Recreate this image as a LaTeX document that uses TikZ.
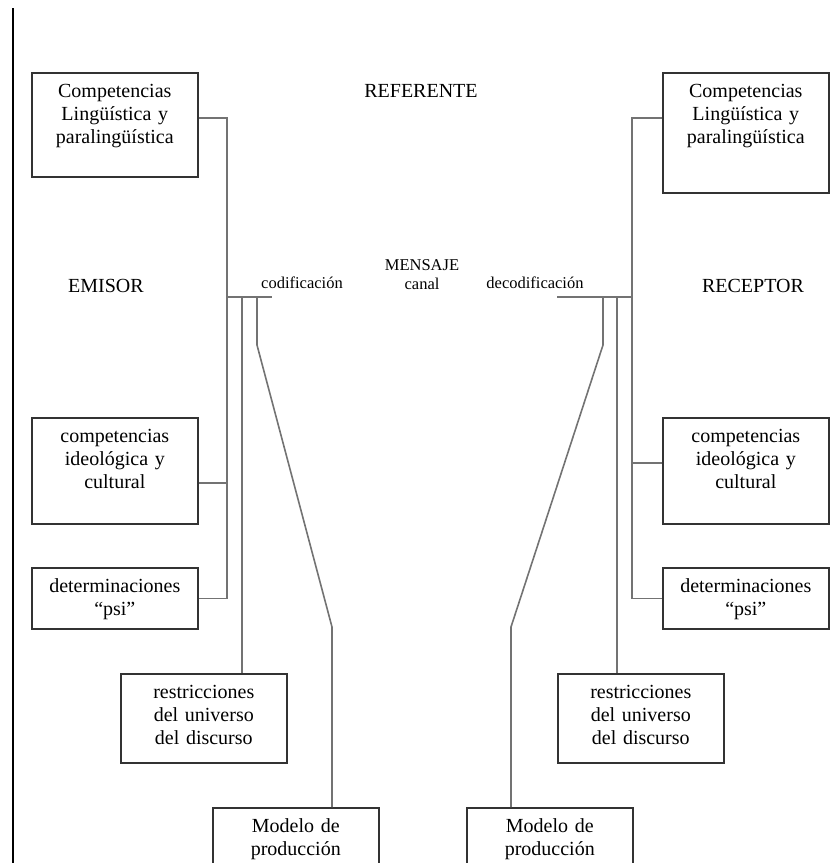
\documentclass[tikz,border=0pt]{standalone}
\usepackage{fontspec}
\setmainfont{Liberation Serif}
\begin{document}
\begin{tikzpicture}[x=1pt,y=-1pt,
  box/.style={draw=boxline, line width=1.6pt, text width=150pt, align=center,
    inner xsep=8pt, inner ysep=0pt, text height=25pt, anchor=north west,
    font=\fontsize{20}{23}\selectfont},
  link/.style={draw=linkgray, line width=1.6pt},
  big/.style={anchor=base, font=\fontsize{20}{23}\selectfont},
  small/.style={anchor=base, align=center, font=\fontsize{16.5}{19}\selectfont}]

\definecolor{boxline}{gray}{.2}
\definecolor{linkgray}{gray}{.45}

\useasboundingbox (0,0) rectangle (833,863);
\clip (0,0) rectangle (833,863);

\draw[line width=2.5pt] (13,8) -- (13,863);

% emisor side
\node[box, text depth=79pt] (lcomp) at (31,72) {Competencias\\Lingüística y\\paralingüística};
\node[box, text depth=81pt] (lideo) at (31,417) {competencias\\ideológica y\\cultural};
\node[box, text depth=36pt] (ldet) at (31,567) {determinaciones\\``psi''};
\node[box, text depth=64pt] (lres) at (120,673) {restricciones\\del universo\\del discurso};
\node[box, text depth=70pt] (lmod) at (212,807) {Modelo de\\producción};

% receptor side
\node[box, text depth=95pt] (rcomp) at (662,72) {Competencias\\Lingüística y\\paralingüística};
\node[box, text depth=81pt] (rideo) at (662,417) {competencias\\ideológica y\\cultural};
\node[box, text depth=36pt] (rdet) at (662,567) {determinaciones\\``psi''};
\node[box, text depth=64pt] (rres) at (557,673) {restricciones\\del universo\\del discurso};
\node[box, text depth=70pt] (rmod) at (466,807) {Modelo de\\producción};

\node[big] (referente) at (421,97) {REFERENTE};
\node[big] (emisor) at (106,292) {EMISOR};
\node[big] (receptor) at (753,292) {RECEPTOR};
\node[small] (codif) at (302,288) {codificación};
\node[small] (mensaje) at (422,289) {MENSAJE\\canal};
\node[small] (decodif) at (535,288) {decodificación};

\coordinate (lfork) at (227,297);
\coordinate (lcod) at (272,297);
\coordinate (lmid) at (242,297);
\coordinate (lslant) at (257,297);
\coordinate (lbend) at (332,627);

\coordinate (rfork) at (632,297);
\coordinate (rdec) at (557,297);
\coordinate (rmid) at (617,297);
\coordinate (rslant) at (603,297);
\coordinate (rbend) at (511,627);

\draw[link] ([yshift=7pt]lcomp.east) -| (lfork) -- (lfork |- ldet.east) -- (ldet.east);
\draw[link] ([yshift=-12pt]lideo.east) -| (lfork);
\draw[link] (lfork) -- (lcod);
\draw[link] (lmid) -- (lmid |- lres.north);
\draw[link] (lslant) -- ++(0,48) -- (lbend) -- (lbend |- lmod.north);

\draw[link] ([yshift=15pt]rcomp.west) -| (rfork) -- (rfork |- rdet.west) -- (rdet.west);
\draw[link] ([yshift=8pt]rideo.west) -| (rfork);
\draw[link] (rfork) -- (rdec);
\draw[link] (rmid) -- (rmid |- rres.north);
\draw[link] (rslant) -- ++(0,48) -- (rbend) -- (rbend |- rmod.north);
\end{tikzpicture}
\end{document}
